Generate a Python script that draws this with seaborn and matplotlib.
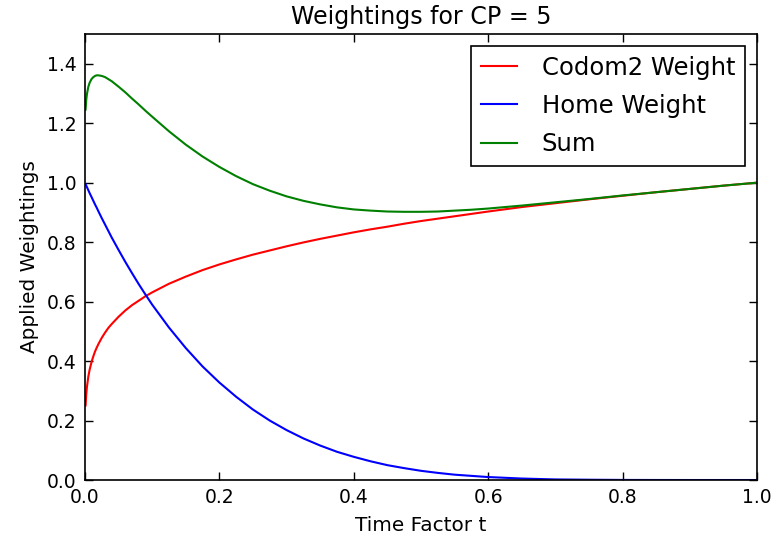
import numpy as np
import pandas as pd
import matplotlib
matplotlib.use("Agg")
import matplotlib.pyplot as plt
import seaborn as sns

# values
t = [0.001, 0.002, 0.003, 0.005, 0.007, 0.01, 0.0125, 0.015, 0.0175, 0.02,
     0.025, 0.03, 0.035, 0.04, 0.05, 0.06, 0.07, 0.08, 0.09, 0.1,
     0.125, 0.15, 0.175, 0.2, 0.225, 0.25, 0.275, 0.3, 0.325, 0.35,
     0.375, 0.4, 0.425, 0.45, 0.475, 0.5, 0.525, 0.55, 0.575, 0.6,
     0.65, 0.7, 0.75, 0.8, 0.85, 0.9, 0.95, 1.0]

codom2_weight = [0.251, 0.289, 0.313, 0.347, 0.371, 0.398, 0.416, 0.432, 0.445, 0.457,
                 0.478, 0.496, 0.512, 0.525, 0.549, 0.570, 0.588, 0.603, 0.618, 0.631,
                 0.660, 0.684, 0.706, 0.725, 0.742, 0.758, 0.772, 0.786, 0.799, 0.811,
                 0.822, 0.833, 0.843, 0.852, 0.862, 0.871, 0.879, 0.887, 0.895, 0.903,
                 0.918, 0.931, 0.944, 0.956, 0.968, 0.979, 0.990, 1.0]

home_weight = [0.995, 0.990, 0.985, 0.975, 0.965, 0.951, 0.939, 0.927, 0.916, 0.904,
               0.881, 0.859, 0.837, 0.815, 0.774, 0.734, 0.696, 0.659, 0.624, 0.590,
               0.513, 0.444, 0.382, 0.328, 0.280, 0.237, 0.200, 0.168, 0.140, 0.116,
               0.095, 0.078, 0.063, 0.050, 0.040, 0.031, 0.024, 0.018, 0.014, 0.010,
               0.005, 0.002, 0.001, 0.0003, 0.0001, 0.0, 0.0, 0.0]

sum_weight = [1.246, 1.279, 1.298, 1.322, 1.336, 1.349, 1.355, 1.359, 1.361, 1.361,
              1.359, 1.355, 1.348, 1.341, 1.323, 1.304, 1.283, 1.263, 1.242, 1.222,
              1.173, 1.128, 1.088, 1.053, 1.022, 0.995, 0.973, 0.954, 0.939, 0.927,
              0.917, 0.910, 0.906, 0.903, 0.902, 0.902, 0.903, 0.906, 0.909, 0.913,
              0.923, 0.934, 0.945, 0.957, 0.968, 0.979, 0.990, 1.0]

df = pd.DataFrame({
    't': t * 3,
    'weight': codom2_weight + home_weight + sum_weight,
    'series': ['Codom2 Weight'] * len(t) + ['Home Weight'] * len(t) + ['Sum'] * len(t)
})

plt.rcParams['font.family'] = ['DejaVu Sans']

fig, ax = plt.subplots(figsize=(7.72, 5.44), dpi=100)
fig.subplots_adjust(left=0.110, right=0.9806, top=0.9375, bottom=0.1176)

sns.lineplot(
    data=df,
    x='t',
    y='weight',
    hue='series',
    palette={'Codom2 Weight': '#ff0000', 'Home Weight': '#0000ff', 'Sum': '#008000'},
    estimator=None,
    linewidth=1.5,
    ax=ax
)

ax.set_xlim(0, 1.0)
ax.set_ylim(0, 1.5)
ax.set_xticks([0.0, 0.2, 0.4, 0.6, 0.8, 1.0])
ax.set_yticks([0.0, 0.2, 0.4, 0.6, 0.8, 1.0, 1.2, 1.4])
ax.tick_params(direction='in', top=True, right=True, length=6, width=1,
               labelsize=13.5, pad=6, colors='black')
for s in ax.spines.values():
    s.set_linewidth(1.2)
    s.set_color('black')

ax.set_title('Weightings for CP = 5', fontsize=17.1, pad=7)
ax.set_xlabel('Time Factor t', fontsize=14.4, labelpad=6)
ax.set_ylabel('Applied Weightings', fontsize=14.4, labelpad=6)

leg = ax.legend(loc='upper right', fontsize=17.5, handlelength=1.5, handletextpad=1.0,
                borderpad=0.4, borderaxespad=0.5, fancybox=False, framealpha=1,
                edgecolor='black', labelspacing=0.58, title=None)
leg.get_frame().set_linewidth(1.2)

fig.savefig('out.png', dpi=100)
